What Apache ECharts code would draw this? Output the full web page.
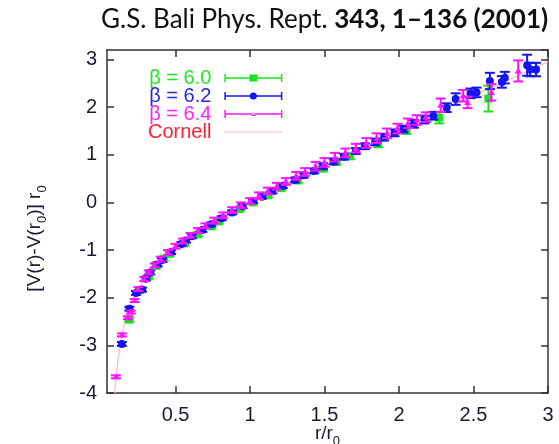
<!DOCTYPE html>
<html>
<head>
<meta charset="utf-8">
<script src="https://cdn.jsdelivr.net/npm/echarts@6/dist/echarts.min.js"></script>
<style>
  html, body { margin: 0; padding: 0; background: #ffffff; }
  #chart { width: 559px; height: 444px; }
</style>
</head>
<body>
<div id="chart"></div>
<script>
// Static quark potential in units of r0, three lattice spacings
// beta = 6.0
const r60 = [0.19, 0.26, 0.32, 0.37, 0.42, 0.46, 0.56, 0.65, 0.74, 0.79, 0.93, 1.02, 1.12, 1.21, 1.32, 1.49, 1.58, 1.67, 1.86, 2.05, 2.27, 2.60];
const v60 = [-2.46, -1.84, -1.55, -1.33, -1.18, -1.08, -0.86, -0.67, -0.50, -0.40, -0.14, 0.00, 0.15, 0.30, 0.46, 0.71, 0.85, 0.97, 1.23, 1.52, 1.78, 2.18];
const e60 = [0.02, 0.02, 0.02, 0.02, 0.02, 0.02, 0.02, 0.02, 0.02, 0.02, 0.02, 0.02, 0.02, 0.02, 0.03, 0.03, 0.03, 0.04, 0.05, 0.06, 0.10, 0.25];

// beta = 6.2
const r62 = [0.14, 0.19, 0.235, 0.275, 0.30, 0.33, 0.38, 0.41, 0.47, 0.54, 0.57, 0.61, 0.68, 0.74, 0.81, 0.88, 0.95, 1.02, 1.08, 1.15, 1.22, 1.30, 1.36, 1.43, 1.49, 1.56, 1.63, 1.71, 1.77, 1.84, 1.90, 1.97, 2.03, 2.10, 2.17, 2.23, 2.32, 2.38, 2.48, 2.52, 2.61, 2.69, 2.71, 2.86, 2.88, 2.92];
const v62 = [-2.97, -2.23, -1.90, -1.83, -1.60, -1.47, -1.30, -1.21, -1.04, -0.87, -0.80, -0.71, -0.58, -0.46, -0.33, -0.21, -0.08, 0.03, 0.12, 0.24, 0.35, 0.47, 0.57, 0.66, 0.76, 0.86, 0.96, 1.08, 1.18, 1.27, 1.37, 1.46, 1.54, 1.65, 1.74, 1.82, 1.99, 2.17, 2.29, 2.31, 2.55, 2.53, 2.62, 2.88, 2.79, 2.79];
const e62 = [0.02, 0.02, 0.02, 0.02, 0.02, 0.02, 0.02, 0.02, 0.02, 0.02, 0.02, 0.02, 0.02, 0.02, 0.02, 0.02, 0.02, 0.02, 0.02, 0.03, 0.03, 0.03, 0.03, 0.03, 0.04, 0.04, 0.04, 0.04, 0.04, 0.05, 0.05, 0.05, 0.05, 0.06, 0.06, 0.06, 0.07, 0.10, 0.08, 0.08, 0.15, 0.10, 0.10, 0.20, 0.12, 0.12];

// beta = 6.4
const r64 = [0.10, 0.14, 0.18, 0.20, 0.225, 0.25, 0.29, 0.32, 0.36, 0.40, 0.45, 0.50, 0.55, 0.60, 0.65, 0.70, 0.76, 0.82, 0.88, 0.94, 1.00, 1.06, 1.12, 1.18, 1.24, 1.31, 1.37, 1.44, 1.50, 1.57, 1.64, 1.71, 1.78, 1.85, 1.92, 1.99, 2.06, 2.12, 2.18, 2.28, 2.43, 2.46, 2.62, 2.80];
const v64 = [-3.66, -2.78, -2.42, -2.30, -2.06, -1.82, -1.61, -1.47, -1.32, -1.19, -1.05, -0.92, -0.81, -0.69, -0.59, -0.49, -0.38, -0.27, -0.16, -0.06, 0.03, 0.14, 0.24, 0.34, 0.44, 0.56, 0.64, 0.76, 0.84, 0.95, 1.04, 1.14, 1.25, 1.35, 1.45, 1.55, 1.66, 1.73, 1.79, 2.04, 2.24, 2.10, 2.31, 2.76];
const e64 = [0.01, 0.01, 0.01, 0.01, 0.01, 0.02, 0.02, 0.02, 0.02, 0.03, 0.03, 0.03, 0.03, 0.03, 0.03, 0.03, 0.04, 0.04, 0.04, 0.04, 0.04, 0.05, 0.05, 0.05, 0.05, 0.06, 0.06, 0.07, 0.07, 0.07, 0.07, 0.07, 0.08, 0.08, 0.08, 0.08, 0.08, 0.08, 0.08, 0.12, 0.10, 0.10, 0.15, 0.20];

// Cornell curve
const rCornell = [0.092, 0.10, 0.12, 0.15, 0.20, 0.25, 0.30, 0.40, 0.50, 0.60, 0.70, 0.80, 1.00, 1.25, 1.50, 1.75, 2.00, 2.25, 2.50, 2.75, 3.00];
const vCornell = [-4.00, -3.70, -3.18, -2.65, -2.15, -1.83, -1.58, -1.23, -0.96, -0.73, -0.53, -0.34, 0.00, 0.40, 0.78, 1.15, 1.52, 1.88, 2.24, 2.59, 2.95];

const xTicks = [0.5, 1, 1.5, 2, 2.5, 3];

const GREEN = '#16e616';
const BLUE = '#1414ee';
const MAGENTA = '#ff14ff';
const PINK = '#ffb8c0';
const AXIS = '#333333';
const SANS = 'Liberation Sans, Arial, sans-serif';

function zip3(a, b, c) { return a.map((v, i) => [v, b[i], c[i]]); }

function errorBars(marker) {
  return function (params, api) {
    const x = api.value(0), y = api.value(1), e = api.value(2);
    const c = api.coord([x, y]);
    const hi = api.coord([x, y + e])[1] - 1;
    const lo = api.coord([x, y - e])[1] + 1;
    const color = api.visual('color');
    const cap = 5;
    const ls = { stroke: color, lineWidth: 2 };
    const kids = [
      { type: 'line', shape: { x1: c[0], y1: hi, x2: c[0], y2: lo }, style: ls },
      { type: 'line', shape: { x1: c[0] - cap, y1: hi, x2: c[0] + cap, y2: hi }, style: ls },
      { type: 'line', shape: { x1: c[0] - cap, y1: lo, x2: c[0] + cap, y2: lo }, style: ls }
    ];
    if (marker === 'square') {
      kids.push({ type: 'rect', shape: { x: c[0] - 4, y: c[1] - 4, width: 8, height: 8 }, style: { fill: color } });
    } else if (marker === 'circle') {
      kids.push({ type: 'circle', shape: { cx: c[0], cy: c[1], r: 4 }, style: { fill: color } });
    } else {
      kids.push({ type: 'polygon', shape: { points: [[c[0] - 3.5, c[1] + 2.5], [c[0] + 3.5, c[1] + 2.5], [c[0], c[1] - 3.5]] }, style: { fill: color } });
    }
    return { type: 'group', children: kids };
  };
}

const barIcon = 'M0,0L1.5,0L1.5,8L0,8Z M1.5,3.3L56.5,3.3L56.5,4.7L1.5,4.7Z M56.5,0L58,0L58,8L56.5,8Z';
const iconSquare = 'path://' + barIcon + ' M25,0.5L33,0.5L33,7.5L25,7.5Z';
const iconCircle = 'path://' + barIcon + ' M32.5,4A3.5,3.5,0,1,1,25.5,4A3.5,3.5,0,1,1,32.5,4Z';
const iconTri = 'path://' + barIcon + ' M26.5,6L31.5,6L29,2Z';
const iconLine = 'path://M0,3.6L58,3.6L58,4.4L0,4.4Z M0,0L0.01,0L0.01,8L0,8Z';

function legendText(color) {
  return { color: color, fontFamily: SANS, fontSize: 20, lineHeight: 19.5, padding: [0, 8, 0, 0] };
}

const chart = echarts.init(document.getElementById('chart'), null, { renderer: 'canvas' });

const tickLabel = { fontFamily: SANS, fontSize: 20, color: '#1c1c30' };
const subRich = {
  m: { fontFamily: SANS, fontSize: 19, color: '#1c1c30', lineHeight: 22, verticalAlign: 'top' },
  s: { fontFamily: SANS, fontSize: 13, color: '#1c1c30', lineHeight: 13, padding: [11, 0, 0, 0], verticalAlign: 'top' },
  g: { fontFamily: SANS, fontSize: 19, width: 34, lineHeight: 22, verticalAlign: 'top' }
};

chart.setOption({
  animation: false,
  backgroundColor: '#ffffff',
  title: {
    left: 96,
    top: 2,
    text: '{n|G.S. Bali Phys. Rept. }{b|343, 1\u2013136 (2001)}',
    textStyle: {
      fontWeight: 'normal',
      rich: {
        n: { fontFamily: 'Lato', fontSize: 26, fontWeight: 'normal', color: '#111111' },
        b: { fontFamily: 'Lato', fontSize: 26, fontWeight: 'bold', color: '#111111' }
      }
    }
  },
  legend: {
    orient: 'vertical',
    left: 143,
    top: 63,
    align: 'right',
    itemWidth: 58,
    itemHeight: 8,
    itemGap: -2,
    selectedMode: false,
    textStyle: legendText('#000'),
    data: [
      { name: '\u03b2 = 6.0', icon: iconSquare, textStyle: legendText('#22e822') },
      { name: '\u03b2 = 6.2', icon: iconCircle, textStyle: legendText('#2626f0') },
      { name: '\u03b2 = 6.4', icon: iconTri, textStyle: legendText('#ff22ff') },
      { name: 'Cornell', icon: iconLine, textStyle: legendText('#ff2035') }
    ]
  },
  grid: { left: 107, right: 11, top: 50, bottom: 51, show: false, outerBoundsMode: 'none' },
  xAxis: [
    {
      type: 'value', min: 0.04, max: 3,
      axisLine: { show: true, onZero: false, lineStyle: { color: AXIS, width: 1.5 } },
      axisTick: { show: true, inside: true, length: 7, customValues: xTicks, lineStyle: { color: AXIS, width: 1.5 } },
      axisLabel: { customValues: xTicks, margin: 12, ...tickLabel },
      splitLine: { show: false },
      name: '{m|r/r}{s|0}',
      nameLocation: 'middle',
      nameGap: 31,
      nameMoveOverlap: false,
      nameTextStyle: { rich: subRich }
    },
    {
      type: 'value', min: 0.04, max: 3, position: 'top',
      axisLine: { show: true, onZero: false, lineStyle: { color: AXIS, width: 1.5 } },
      axisTick: { show: true, inside: true, length: 7, customValues: xTicks, lineStyle: { color: AXIS, width: 1.5 } },
      axisLabel: { show: false },
      splitLine: { show: false }
    }
  ],
  yAxis: [
    {
      type: 'value', min: -4, max: 3.2, interval: 1,
      axisLine: { show: true, onZero: false, lineStyle: { color: AXIS, width: 1.5 } },
      axisTick: { show: true, inside: true, length: 7, lineStyle: { color: AXIS, width: 1.5 } },
      axisLabel: { margin: 10, showMaxLabel: false, ...tickLabel, formatter: v => (Math.abs(v - Math.round(v)) < 1e-9 ? String(Math.round(v)) : '') },
      splitLine: { show: false },
      name: '{m|[V(r)-V(r}{s|0}{m|)] r}{s|0}{g|\u00a0}',
      nameLocation: 'middle',
      nameRotate: 90,
      nameGap: 60,
      nameMoveOverlap: false,
      nameTextStyle: { rich: subRich }
    },
    {
      type: 'value', min: -4, max: 3.2, interval: 1, position: 'right',
      axisLine: { show: true, onZero: false, lineStyle: { color: AXIS, width: 1.5 } },
      axisTick: { show: true, inside: true, length: 7, lineStyle: { color: AXIS, width: 1.5 } },
      axisLabel: { show: false },
      splitLine: { show: false }
    }
  ],
  series: [
    {
      name: 'Cornell', type: 'line', smooth: true, symbol: 'none', z: 1,
      lineStyle: { color: PINK, width: 1.2 }, itemStyle: { color: PINK },
      data: rCornell.map((r, i) => [r, vCornell[i]])
    },
    {
      name: '\u03b2 = 6.0', type: 'custom', z: 2, clip: true,
      itemStyle: { color: GREEN },
      renderItem: errorBars('square'),
      encode: { x: 0, y: 1 },
      data: zip3(r60, v60, e60)
    },
    {
      name: '\u03b2 = 6.2', type: 'custom', z: 3, clip: true,
      itemStyle: { color: BLUE },
      renderItem: errorBars('circle'),
      encode: { x: 0, y: 1 },
      data: zip3(r62, v62, e62)
    },
    {
      name: '\u03b2 = 6.4', type: 'custom', z: 4, clip: true,
      itemStyle: { color: MAGENTA },
      renderItem: errorBars('triangle'),
      encode: { x: 0, y: 1 },
      data: zip3(r64, v64, e64)
    }
  ]
});
</script>
</body>
</html>
